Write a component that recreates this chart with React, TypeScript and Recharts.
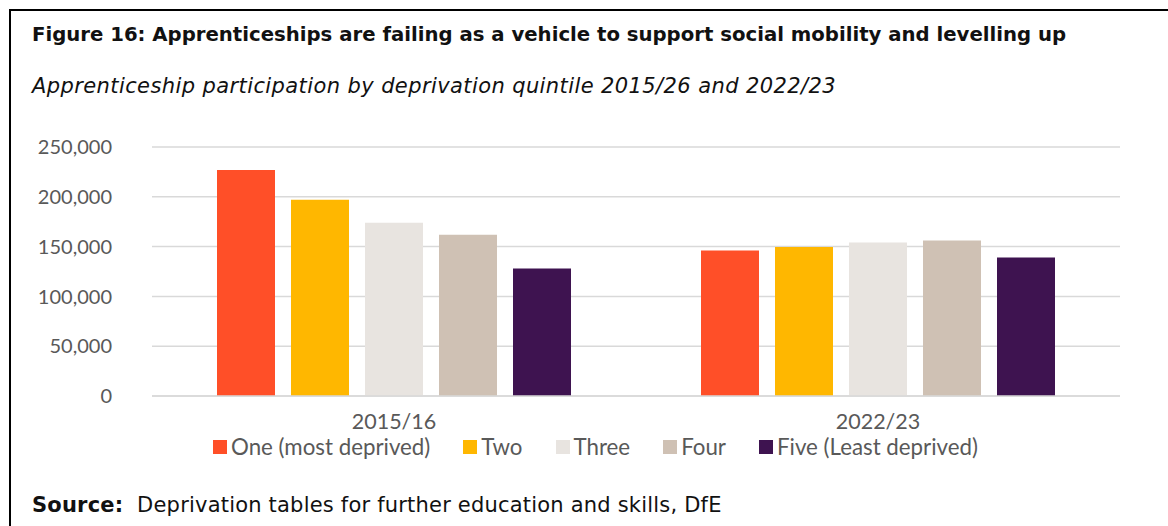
import React from "react";
import { BarChart, Bar, XAxis, YAxis, CartesianGrid } from "recharts";

const years = ["2015/16", "2022/23"];
const one = [227000, 146000];
const two = [197000, 149500];
const three = [174000, 154000];
const four = [162000, 156000];
const five = [128000, 139000];
const yTicks = [0, 50000, 100000, 150000, 200000, 250000];

const series = [
  { key: "one", name: "One (most deprived)", color: "#FF4F28", values: one },
  { key: "two", name: "Two", color: "#FFB700", values: two },
  { key: "three", name: "Three", color: "#E8E4E0", values: three },
  { key: "four", name: "Four", color: "#CFC1B4", values: four },
  { key: "five", name: "Five (Least deprived)", color: "#3E1350", values: five },
];

const data = years.map((year, i) => {
  const row: Record<string, string | number> = { year };
  series.forEach((s) => {
    row[s.key] = s.values[i];
  });
  return row;
});

const headFont = '"DejaVu Sans", sans-serif';
const axisFont = 'Lato, "Noto Sans", sans-serif';

const LegendRow = () => (
  <div
    style={{
      position: "absolute",
      left: 213,
      top: 433,
      display: "flex",
      alignItems: "center",
      fontFamily: axisFont,
      fontSize: 22.3,
      lineHeight: "28px",
      color: "#595959",
      whiteSpace: "nowrap",
    }}
  >
    {series.map((s) => (
      <div
        key={s.key}
        style={{ display: "flex", alignItems: "center", marginRight: 33 }}
      >
        <span
          style={{
            display: "inline-block",
            width: 14,
            height: 14,
            background: s.color,
            marginRight: 4,
          }}
        />
        <span>{s.name}</span>
      </div>
    ))}
  </div>
);

export default function App() {
  return (
    <div
      style={{
        position: "absolute",
        left: 0,
        top: 0,
        width: 1168,
        height: 526,
        background: "#fff",
        overflow: "hidden",
      }}
    >
      <div
        style={{
          position: "absolute",
          left: 9,
          top: 9,
          right: 0,
          bottom: 0,
          borderTop: "2px solid #000",
          borderLeft: "2px solid #000",
        }}
      />
      <div
        style={{
          position: "absolute",
          left: 32,
          top: 23,
          fontFamily: headFont,
          fontWeight: "bold",
          fontSize: 19.7,
          color: "#111",
          whiteSpace: "nowrap",
        }}
      >
        Figure 16: Apprenticeships are failing as a vehicle to support social
        mobility and levelling up
      </div>
      <div
        style={{
          position: "absolute",
          left: 32,
          top: 74,
          fontFamily: headFont,
          fontStyle: "italic",
          fontSize: 21,
          letterSpacing: 0.4,
          color: "#111",
          whiteSpace: "nowrap",
        }}
      >
        Apprenticeship participation by deprivation quintile 2015/26 and 2022/23
      </div>
      <div style={{ position: "absolute", left: 0, top: 0 }}>
        <BarChart
          width={1168}
          height={526}
          data={data}
          barCategoryGap={65}
          barGap={16}
          margin={{ top: 147, right: 48, bottom: 100, left: 0 }}
        >
          <CartesianGrid vertical={false} stroke="#d9d9d9" strokeWidth={1.5} />
          <XAxis
            dataKey="year"
            height={30}
            axisLine={{ stroke: "#d9d9d9", strokeWidth: 1.5 }}
            tickLine={false}
            tickMargin={12}
            tick={{ fontFamily: axisFont, fontSize: 21.5, fill: "#595959" }}
          />
          <YAxis
            width={152}
            domain={[0, 250000]}
            ticks={yTicks}
            interval={0}
            axisLine={false}
            tickLine={false}
            tickMargin={34}
            tickFormatter={(v: number) => v.toLocaleString("en-GB")}
            tick={{ fontFamily: axisFont, fontSize: 20, fill: "#595959" }}
          />
          {series.map((s) => (
            <Bar
              key={s.key}
              dataKey={s.key}
              name={s.name}
              fill={s.color}
              isAnimationActive={false}
            />
          ))}
        </BarChart>
      </div>
      <LegendRow />
      <div
        style={{
          position: "absolute",
          left: 32,
          top: 493,
          fontFamily: headFont,
          fontSize: 21,
          letterSpacing: 0.2,
          color: "#111",
          whiteSpace: "nowrap",
        }}
      >
        <b>Source:</b>&nbsp; Deprivation tables for further education and skills, DfE
      </div>
    </div>
  );
}
